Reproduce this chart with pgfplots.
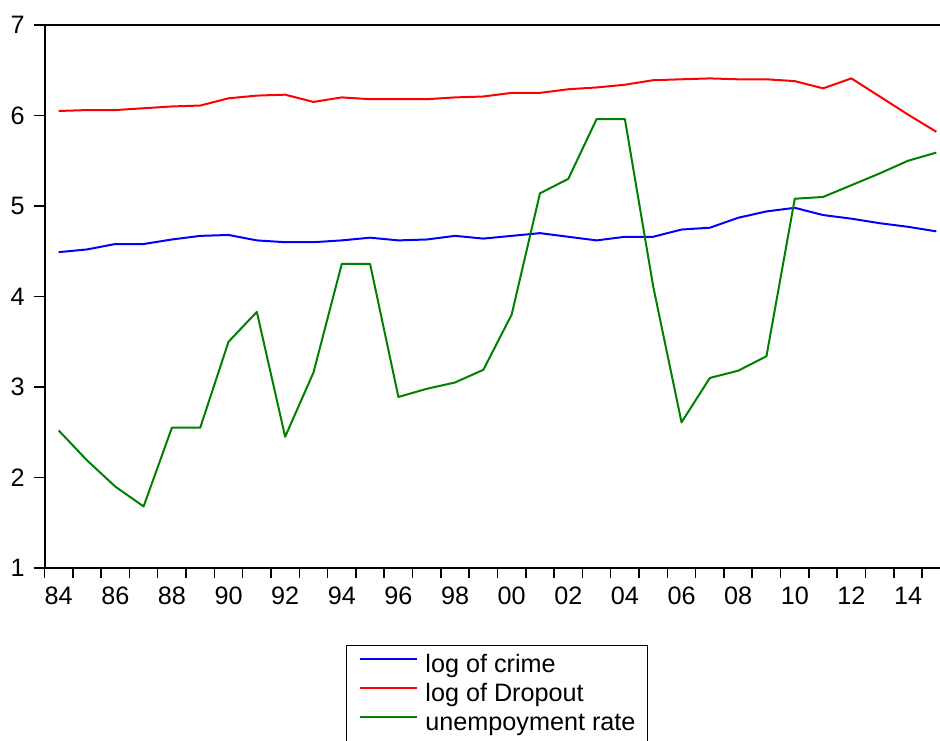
\documentclass[border=0pt]{standalone}
\usepackage{fontspec}
\setmainfont{Liberation Sans}
\usepackage{pgfplots}
\pgfplotsset{compat=1.18}
\usepackage{pgfplotstable}

\definecolor{evblue}{RGB}{0,0,255}
\definecolor{evred}{RGB}{255,0,0}
\definecolor{evgreen}{RGB}{0,128,0}

% year, log of crime, log of dropout, unemployment rate
\pgfplotstableread{
year crime dropout unemp
1984 4.49 6.05 2.52
1985 4.52 6.06 2.19
1986 4.58 6.06 1.90
1987 4.58 6.08 1.68
1988 4.63 6.10 2.55
1989 4.67 6.11 2.55
1990 4.68 6.19 3.50
1991 4.62 6.22 3.83
1992 4.60 6.23 2.45
1993 4.60 6.15 3.16
1994 4.62 6.20 4.36
1995 4.65 6.18 4.36
1996 4.62 6.18 2.89
1997 4.63 6.18 2.98
1998 4.67 6.20 3.05
1999 4.64 6.21 3.19
2000 4.67 6.25 3.80
2001 4.70 6.25 5.14
2002 4.66 6.29 5.30
2003 4.62 6.31 5.96
2004 4.66 6.34 5.96
2005 4.66 6.39 4.11
2006 4.74 6.40 2.61
2007 4.76 6.41 3.10
2008 4.87 6.40 3.18
2009 4.94 6.40 3.34
2010 4.98 6.38 5.08
2011 4.90 6.30 5.10
2012 4.86 6.41 5.23
2013 4.81 6.21 5.36
2014 4.77 6.01 5.50
2015 4.72 5.82 5.59
}\evdata

\begin{document}
\begin{tikzpicture}
\begin{axis}[
  name=ax,
  at={(22.25pt,86pt)}, anchor=south west,
  scale only axis,
  width=447.75pt, height=271.5pt,
  xmin=1983.5, xmax=2015.13,
  ymin=1, ymax=7,
  axis x line*=bottom, axis y line*=left,
  axis line style={-, line width=1pt},
  every outer x axis line/.append style={-},
  every outer y axis line/.append style={-},
  tick align=outside,
  major tick length=5.5pt,
  minor tick length=5pt,
  tick style={line width=0.75pt, black},
  major x tick style={draw=none},
  xtick={1984,1986,...,2014},
  xticklabels={84,86,88,90,92,94,96,98,00,02,04,06,08,10,12,14},
  minor xtick={1983.5,1984.5,...,2015.5},
  ytick={1,2,...,7},
  /pgf/number format/assume math mode=true,
  ticklabel style={font=\fontsize{12.6}{14}\selectfont},
  xticklabel style={inner sep=0pt, yshift=-3.9pt},
  yticklabel style={inner sep=0pt, xshift=-4.2pt},
  legend style={
    at={(rel axis cs:0.5055,-0.1418)}, anchor=north,
    draw=black, line width=0.5pt,
    inner xsep=6.15pt, inner ysep=4pt,
    font=\fontsize{12.6}{14}\selectfont,
    nodes={inner sep=0pt, text height=9.3pt, text depth=3pt},
    row sep=2.2pt, column sep=3.8pt,
    cells={anchor=west},
  },
  legend cell align=left,
  legend image code/.code={\draw[#1, line width=1pt] (0pt,3.2pt) -- (28.5pt,3.2pt);},
  every axis plot/.append style={line width=1pt, line join=round},
]
\addplot[evblue] table[x=year, y=crime] {\evdata};
\addlegendentry{log of crime}
\addplot[evred] table[x=year, y=dropout] {\evdata};
\addlegendentry{log of Dropout}
\addplot[evgreen] table[x=year, y=unemp] {\evdata};
\addlegendentry{unempoyment rate}
\end{axis}
\draw[line width=1pt] (ax.north west) -- (ax.north east);
\pgfresetboundingbox
\path (0pt,0pt) rectangle (470pt,370pt);
\end{tikzpicture}
\end{document}
